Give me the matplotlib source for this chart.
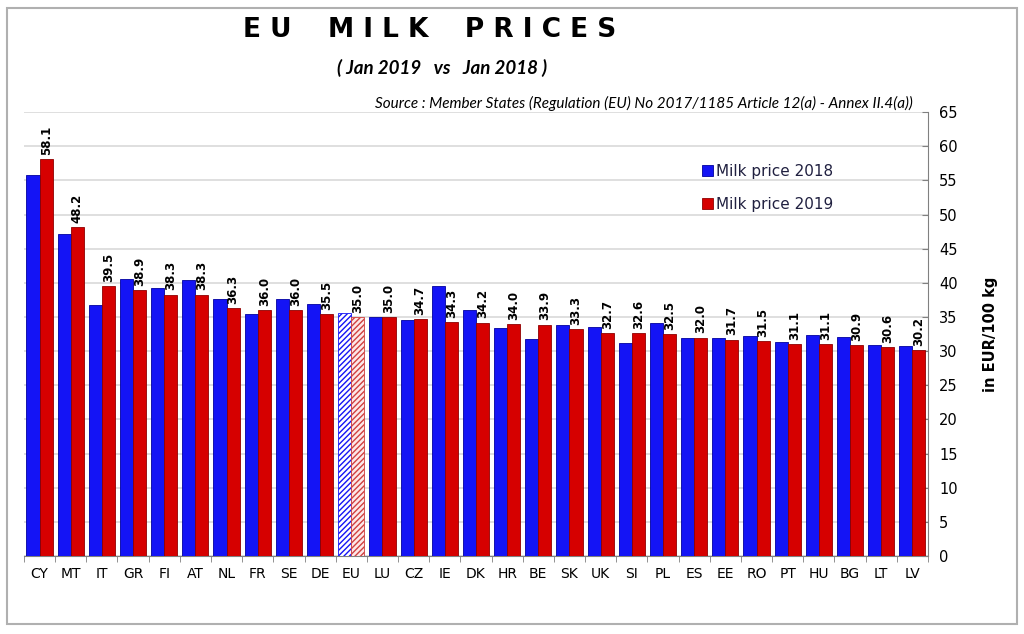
import numpy as np
import matplotlib
matplotlib.use("Agg")
import matplotlib.pyplot as plt
from matplotlib.patches import Rectangle

# data
countries = ["CY", "MT", "IT", "GR", "FI", "AT", "NL", "FR", "SE", "DE", "EU",
             "LU", "CZ", "IE", "DK", "HR", "BE", "SK", "UK", "SI", "PL", "ES",
             "EE", "RO", "PT", "HU", "BG", "LT", "LV"]
price_2018 = [55.8, 47.1, 36.7, 40.6, 39.3, 40.4, 37.6, 35.4, 37.7, 36.9, 35.6,
              35.0, 34.6, 39.6, 36.0, 33.4, 31.8, 33.8, 33.5, 31.2, 34.2, 32.0,
              32.0, 32.2, 31.3, 32.3, 32.1, 30.9, 30.8]
price_2019 = [58.1, 48.2, 39.5, 38.9, 38.3, 38.3, 36.3, 36.0, 36.0, 35.5, 35.0,
              35.0, 34.7, 34.3, 34.2, 34.0, 33.9, 33.3, 32.7, 32.6, 32.5, 32.0,
              31.7, 31.5, 31.1, 31.1, 30.9, 30.6, 30.2]
y_ticks = list(range(0, 70, 5))

BLUE = "#1414f5"
RED = "#d60000"

fig = plt.figure(figsize=(10.24, 6.34), dpi=100)
ax = fig.add_axes([0.0234, 0.123, 0.8828, 0.700])

x = np.arange(len(countries))
w = 0.42
b1 = ax.bar(x - w / 2, price_2018, width=w, color=BLUE, edgecolor="#0000a0",
            linewidth=0.6, label="Milk price 2018", zorder=3)
b2 = ax.bar(x + w / 2, price_2019, width=w, color=RED, edgecolor="#900000",
            linewidth=0.6, label="Milk price 2019", zorder=3)

# EU average bars are hatched
eu = countries.index("EU")
b1[eu].set_facecolor("white")
b1[eu].set_edgecolor(BLUE)
b1[eu].set_hatch("//////")
b2[eu].set_facecolor("#fde8e8")
b2[eu].set_edgecolor("#d04040")
b2[eu].set_hatch("//////")

# value labels above 2019 bars
for xi, v in zip(x, price_2019):
    ax.text(xi + w / 2, v + 0.6, f"{v:.1f}", rotation=90, ha="center",
            va="bottom", fontsize=8.5, fontweight="bold", zorder=4)

ax.set_xlim(-0.5, len(countries) - 0.5)
ax.set_ylim(0, 65)
ax.set_yticks(y_ticks)
ax.yaxis.tick_right()
ax.yaxis.set_label_position("right")
ax.tick_params(axis="y", labelsize=10.5, length=4, direction="in",
               color="#808080", pad=8)
ax.set_xticks(x)
ax.set_xticklabels(countries, fontsize=10)
ax.tick_params(axis="x", length=0, pad=8)
ax.set_xticks(np.arange(-0.5, len(countries), 1), minor=True)
ax.tick_params(axis="x", which="minor", length=4, color="#808080")
ax.grid(axis="y", color="#d9d9d9", linewidth=1.2, zorder=0)
for s in ["top", "left"]:
    ax.spines[s].set_visible(False)
ax.spines["right"].set_color("#808080")
ax.spines["bottom"].set_color("#808080")
ax.set_ylabel("in EUR/100 kg", fontsize=10.5, fontweight="bold", labelpad=18)

leg = ax.legend(loc="upper left", bbox_to_anchor=(0.735, 0.915), frameon=False,
                fontsize=11, handlelength=0.7, handleheight=0.7,
                handletextpad=0.2, labelspacing=1.2)
for t in leg.get_texts():
    t.set_color("#202040")

fig.text(0.42, 0.952, "E U    M I L K    P R I C E S", ha="center", va="center",
         fontsize=19, fontweight="bold")
fig.text(0.432, 0.893, "( Jan 2019   vs   Jan 2018 )", ha="center", va="center",
         fontsize=13.5, fontweight="bold", style="italic", family="Lato")
fig.text(0.891, 0.837, "Source : Member States (Regulation (EU) No 2017/1185 Article 12(a) - Annex II.4(a))",
         ha="right", va="center", fontsize=11, style="italic", family="Lato")

fig.patches.append(Rectangle((0.0068, 0.0158), 0.986, 0.972, transform=fig.transFigure,
                             fill=False, edgecolor="#b0b0b0", linewidth=1.5))

fig.savefig("out.png", dpi=100)
